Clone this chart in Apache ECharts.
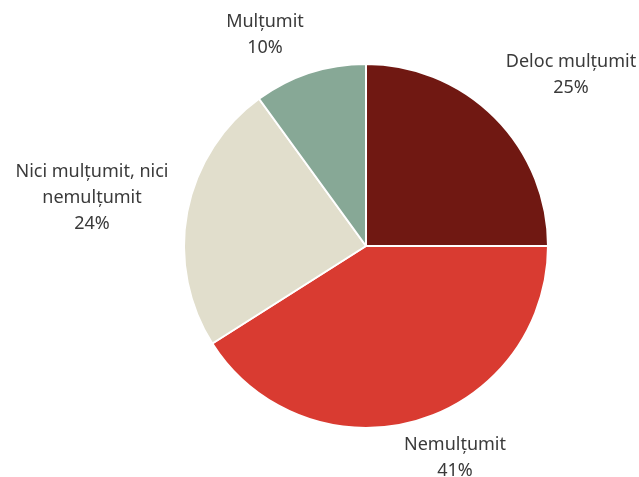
<!DOCTYPE html>
<html>
<head>
<meta charset="utf-8">
<script src="https://cdn.jsdelivr.net/npm/echarts@6/dist/echarts.min.js"></script>
<style>
    html, body { margin: 0; padding: 0; background: #fff; }
    #chart { width: 639px; height: 477px; }
</style>
</head>
<body>
<div id="chart"></div>
<script>
// categories and shares (%), clockwise from 12 o'clock
var categories = ['Deloc mulțumit', 'Nemulțumit', 'Nici mulțumit, nici\nnemulțumit', 'Mulțumit'];
var values = [25, 41, 24, 10];
var colors = ['#701812', '#D93B31', '#E1DECC', '#87A896'];

// label centres in px (Excel "best fit" placement)
var labelCenters = [[571, 75], [455, 458], [92, 198], [265, 35]];

function render_pie(divId) {
    var dom = document.getElementById(divId);
    var myChart = echarts.init(dom);

    var pieData = categories.map(function (name, i) {
        return { name: name, value: values[i], itemStyle: { color: colors[i] } };
    });

    var option = {
        animation: false,
        series: [
            {
                type: 'pie',
                center: [366, 246],
                radius: 182,
                startAngle: 90,
                clockwise: true,
                data: pieData,
                itemStyle: {
                    borderColor: '#ffffff',
                    borderWidth: 2
                },
                label: {
                    show: true,
                    position: 'outside',
                    formatter: '{b}\n{d}%',
                    color: '#3a3a3a',
                    fontFamily: 'Noto Sans',
                    fontSize: 18,
                    lineHeight: 26,
                    align: 'center',
                    overflow: 'none'
                },
                labelLine: { show: false },
                labelLayout: function (params) {
                    var c = labelCenters[params.dataIndex];
                    return { x: c[0], y: c[1], align: 'center', verticalAlign: 'middle' };
                },
                emphasis: { disabled: true }
            }
        ]
    };
    myChart.setOption(option);
}

render_pie('chart');
</script>
</body>
</html>
